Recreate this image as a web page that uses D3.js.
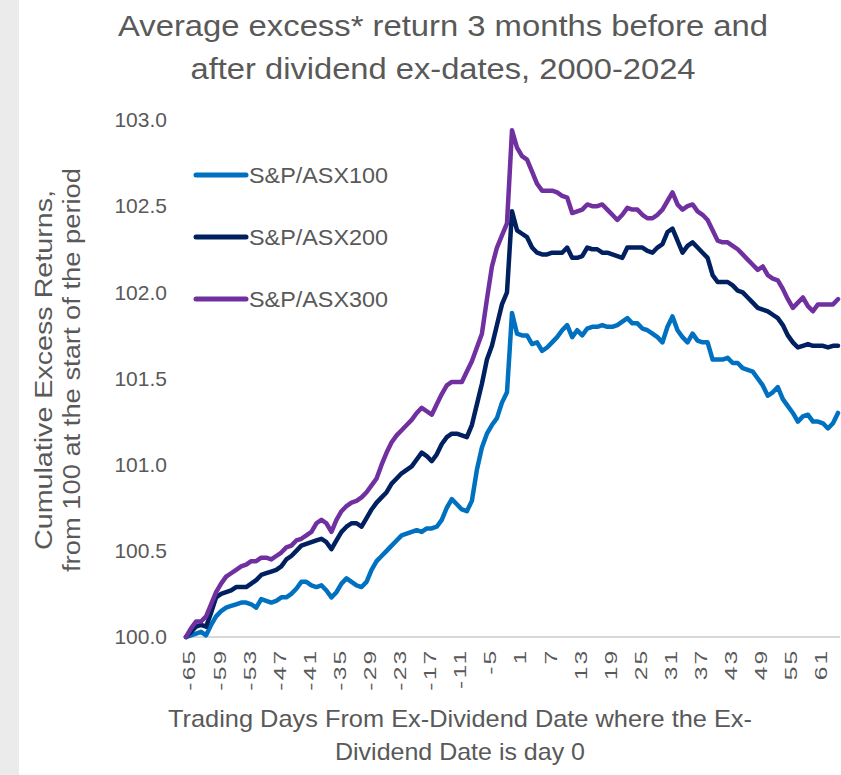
<!DOCTYPE html>
<html>
<head>
<meta charset="utf-8">
<script src="https://cdn.jsdelivr.net/npm/d3@7"></script>
<style>
  body { margin: 0; background: #fff; }
  svg { display: block; font-family: "Liberation Sans", Arial, sans-serif; }
</style>
</head>
<body>
<svg id="chart" width="841" height="775"></svg>
<script>
const svg = d3.select("#chart");

const textColor = '#595959';
const axisLineColor = '#d9d9d9';
const stripColor = '#ebebeb';

// trading days -65 .. 65
const days = d3.range(-65, 66);
const xTickValues = [-65, -59, -53, -47, -41, -35, -29, -23, -17, -11, -5, 1, 7, 13, 19, 25, 31, 37, 43, 49, 55, 61];
const yTickValues = [100.0, 100.5, 101.0, 101.5, 102.0, 102.5, 103.0];

const seriesNames = ['S&P/ASX100', 'S&P/ASX200', 'S&P/ASX300'];
const seriesColors = ['#0070c0', '#002060', '#7030a0'];

const asx100 = [
  100.00, 100.01, 100.02, 100.03, 100.01, 100.07, 100.12, 100.15, 100.17, 100.18,
  100.19, 100.20, 100.20, 100.19, 100.17, 100.22, 100.21, 100.20, 100.21, 100.23,
  100.23, 100.25, 100.28, 100.32, 100.32, 100.30, 100.29, 100.30, 100.27, 100.23,
  100.26, 100.31, 100.34, 100.32, 100.30, 100.29, 100.32, 100.39, 100.44, 100.47,
  100.50, 100.53, 100.56, 100.59, 100.60, 100.61, 100.62, 100.61, 100.63, 100.63,
  100.64, 100.68, 100.75, 100.80, 100.77, 100.74, 100.73, 100.79, 100.97, 101.10,
  101.18, 101.23, 101.27, 101.36, 101.42, 101.88, 101.76, 101.75, 101.75, 101.70,
  101.71, 101.66, 101.68, 101.71, 101.74, 101.78, 101.81, 101.74, 101.78, 101.75,
  101.79, 101.80, 101.80, 101.81, 101.80, 101.80, 101.81, 101.83, 101.85, 101.82,
  101.82, 101.79, 101.78, 101.76, 101.74, 101.71, 101.80, 101.86, 101.78, 101.74,
  101.71, 101.76, 101.72, 101.71, 101.71, 101.61, 101.61, 101.61, 101.62, 101.59,
  101.59, 101.56, 101.55, 101.54, 101.50, 101.46, 101.40, 101.42, 101.45, 101.38,
  101.34, 101.30, 101.25, 101.28, 101.29, 101.25, 101.25, 101.24, 101.21, 101.24,
  101.30
];

const asx200 = [
  100.00, 100.03, 100.06, 100.07, 100.06, 100.14, 100.23, 100.25, 100.26, 100.27,
  100.29, 100.29, 100.29, 100.31, 100.33, 100.36, 100.37, 100.38, 100.39, 100.41,
  100.45, 100.47, 100.50, 100.53, 100.54, 100.55, 100.56, 100.57, 100.55, 100.51,
  100.56, 100.61, 100.64, 100.66, 100.66, 100.64, 100.69, 100.74, 100.78, 100.81,
  100.84, 100.89, 100.92, 100.95, 100.97, 100.99, 101.03, 101.07, 101.05, 101.02,
  101.06, 101.12, 101.16, 101.18, 101.18, 101.17, 101.16, 101.23, 101.35, 101.47,
  101.61, 101.69, 101.81, 101.93, 102.00, 102.47, 102.36, 102.34, 102.32, 102.26,
  102.23, 102.22, 102.22, 102.23, 102.23, 102.23, 102.26, 102.20, 102.20, 102.21,
  102.26, 102.25, 102.25, 102.23, 102.23, 102.22, 102.21, 102.20, 102.26, 102.26,
  102.26, 102.26, 102.24, 102.23, 102.26, 102.28, 102.35, 102.37, 102.30, 102.23,
  102.27, 102.29, 102.26, 102.23, 102.20, 102.10, 102.06, 102.06, 102.06, 102.04,
  102.01, 102.00, 101.97, 101.94, 101.91, 101.90, 101.89, 101.87, 101.85, 101.81,
  101.75, 101.71, 101.68, 101.69, 101.70, 101.69, 101.69, 101.69, 101.68, 101.69,
  101.69
];

const asx300 = [
  100.00, 100.05, 100.09, 100.09, 100.12, 100.19, 100.26, 100.31, 100.35, 100.37,
  100.39, 100.41, 100.42, 100.44, 100.44, 100.46, 100.46, 100.45, 100.47, 100.49,
  100.52, 100.53, 100.56, 100.57, 100.59, 100.61, 100.66, 100.68, 100.66, 100.61,
  100.68, 100.73, 100.76, 100.78, 100.79, 100.81, 100.84, 100.88, 100.92, 101.00,
  101.07, 101.13, 101.17, 101.20, 101.23, 101.26, 101.30, 101.33, 101.31, 101.29,
  101.35, 101.41, 101.46, 101.48, 101.48, 101.48, 101.54, 101.60, 101.68, 101.76,
  101.96, 102.15, 102.26, 102.33, 102.40, 102.94, 102.84, 102.79, 102.77, 102.70,
  102.63, 102.59, 102.59, 102.59, 102.58, 102.56, 102.55, 102.46, 102.47, 102.48,
  102.51, 102.50, 102.50, 102.51, 102.48, 102.45, 102.42, 102.45, 102.49, 102.48,
  102.48, 102.45, 102.43, 102.43, 102.45, 102.48, 102.53, 102.58, 102.51, 102.48,
  102.50, 102.51, 102.47, 102.45, 102.42, 102.36, 102.30, 102.29, 102.29, 102.27,
  102.25, 102.22, 102.19, 102.16, 102.13, 102.15, 102.10, 102.08, 102.07, 102.02,
  101.96, 101.91, 101.94, 101.97, 101.92, 101.89, 101.93, 101.93, 101.93, 101.93,
  101.96
];

const seriesValues = [asx100, asx200, asx300];

const series = seriesNames.map((name, i) => ({
  name: name,
  color: seriesColors[i],
  values: days.map((d, j) => ({ day: d, value: seriesValues[i][j] }))
}));

// background strip on the left
svg.append("rect")
  .attr("x", 0).attr("y", 0)
  .attr("width", 19).attr("height", 775)
  .attr("fill", stripColor);

const x = d3.scaleLinear().domain([-65, 65]).range([186, 838]);
const y = d3.scaleLinear().domain([100, 103]).range([637, 120]);

// title
const titleLines = [
  { text: "Average excess* return 3 months before and", y: 36, len: 650 },
  { text: "after dividend ex-dates, 2000-2024", y: 79, len: 505 }
];
svg.append("g").selectAll("text")
  .data(titleLines)
  .enter()
  .append("text")
  .attr("x", 443)
  .attr("y", d => d.y)
  .attr("text-anchor", "middle")
  .attr("textLength", d => d.len)
  .attr("lengthAdjust", "spacingAndGlyphs")
  .style("font-size", "29px")
  .style("fill", textColor)
  .text(d => d.text);

// y axis
const yAxis = svg.append("g")
  .attr("transform", "translate(167,0)")
  .call(d3.axisLeft(y).tickValues(yTickValues).tickSize(0).tickPadding(0).tickFormat(d3.format(".1f")));
yAxis.select(".domain").remove();
yAxis.selectAll("text")
  .style("font-size", "21px")
  .style("font-family", "Liberation Sans, Arial, sans-serif")
  .style("fill", textColor);

// x axis
const xAxis = svg.append("g")
  .attr("transform", "translate(0,637)")
  .call(d3.axisBottom(x).tickValues(xTickValues).tickSize(0).tickFormat(d3.format("d")));
xAxis.select(".domain")
  .attr("d", `M${x(-65)},0H840`)
  .attr("stroke", axisLineColor)
  .attr("stroke-width", 2);
xAxis.selectAll("text")
  .attr("transform", "rotate(-90) scale(1.45,1)")
  .attr("x", -8)
  .attr("y", 3)
  .attr("dy", "0.35em")
  .style("text-anchor", "end")
  .style("font-size", "17px")
  .style("letter-spacing", "1.5px")
  .style("font-family", "Liberation Sans, Arial, sans-serif")
  .style("fill", textColor)
  .text(d => d < 0 ? "-" + Math.abs(d) : d);

// y axis title
const yTitleLines = [
  { text: "Cumulative Excess Returns,", x: 52, len: 360 },
  { text: "from 100 at the start of the period", x: 80, len: 404 }
];
svg.append("g").selectAll("text")
  .data(yTitleLines)
  .enter()
  .append("text")
  .attr("transform", d => `translate(${d.x},370) rotate(-90)`)
  .attr("text-anchor", "middle")
  .attr("textLength", d => d.len)
  .attr("lengthAdjust", "spacingAndGlyphs")
  .style("font-size", "23px")
  .style("fill", textColor)
  .text(d => d.text);

// x axis title
const xTitleLines = [
  { text: "Trading Days From Ex-Dividend Date where the Ex-", y: 727, len: 584 },
  { text: "Dividend Date is day 0", y: 760, len: 250 }
];
svg.append("g").selectAll("text")
  .data(xTitleLines)
  .enter()
  .append("text")
  .attr("x", 460)
  .attr("y", d => d.y)
  .attr("text-anchor", "middle")
  .attr("textLength", d => d.len)
  .attr("lengthAdjust", "spacingAndGlyphs")
  .style("font-size", "24px")
  .style("fill", textColor)
  .text(d => d.text);

// lines
const line = d3.line()
  .x(d => x(d.day))
  .y(d => y(d.value));

svg.append("g").selectAll("path")
  .data(series)
  .enter()
  .append("path")
  .attr("fill", "none")
  .attr("stroke", d => d.color)
  .attr("stroke-width", 4.5)
  .attr("stroke-linejoin", "round")
  .attr("stroke-linecap", "round")
  .attr("d", d => line(d.values));

// legend
const legend = svg.append("g").selectAll("g")
  .data(series)
  .enter()
  .append("g")
  .attr("transform", (d, i) => `translate(0,${175 + i * 62})`);

legend.append("line")
  .attr("x1", 196).attr("x2", 246)
  .attr("y1", 0).attr("y2", 0)
  .attr("stroke", d => d.color)
  .attr("stroke-width", 5)
  .attr("stroke-linecap", "round");

legend.append("text")
  .attr("x", 249)
  .attr("dy", "0.36em")
  .attr("textLength", 139)
  .attr("lengthAdjust", "spacingAndGlyphs")
  .style("font-size", "22px")
  .style("fill", textColor)
  .text(d => d.name);
</script>
</body>
</html>
